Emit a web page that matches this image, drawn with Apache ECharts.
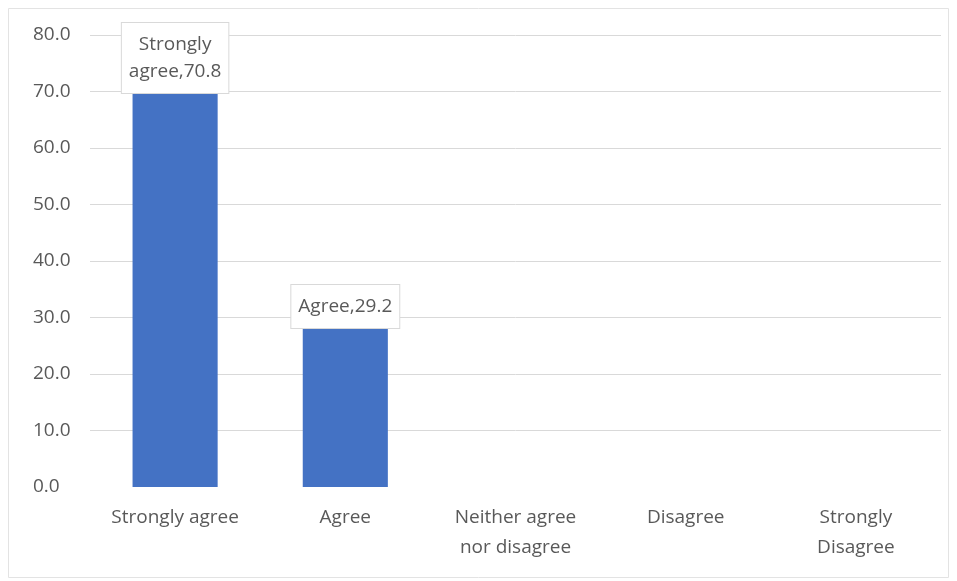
<!DOCTYPE html>
<html><head><meta charset="utf-8">
<script src="https://cdn.jsdelivr.net/npm/echarts@6/dist/echarts.min.js"></script>
<style>html,body{margin:0;padding:0;background:#fff}#c{width:957px;height:581px}</style>
</head><body><div id="c"></div>
<script>
const categories = ['Strongly agree', 'Agree', 'Neither agree nor disagree', 'Disagree', 'Strongly Disagree'];
const axisLabels = ['Strongly agree', 'Agree', 'Neither agree\nnor disagree', 'Disagree', 'Strongly\nDisagree'];
const dataLabels = ['Strongly\nagree', 'Agree', '', '', ''];
const values = [70.8, 29.2, null, null, null];
const yTicks = [0, 80, 10];

const chart = echarts.init(document.getElementById('c'));
const font = '"Open Sans", "Noto Sans", sans-serif';
chart.setOption({
  animation: false,
  graphic: [{type: 'rect', shape: {x: 8.5, y: 8.5, width: 940, height: 569}, style: {fill: 'none', stroke: '#e3e3e3', lineWidth: 1}, z: -1}],
  grid: {left: 90, right: 16, top: 35, bottom: 94},
  xAxis: {
    type: 'category', data: categories,
    axisLine: {show: false}, axisTick: {show: false},
    axisLabel: {color: '#595959', fontSize: 19, fontFamily: font, lineHeight: 30, margin: 16,
      formatter: (v, i) => axisLabels[i]}
  },
  yAxis: {
    type: 'value', min: yTicks[0], max: yTicks[1], interval: yTicks[2],
    axisLine: {show: false}, axisTick: {show: false},
    splitLine: {showMinLine: false, lineStyle: {color: '#d9d9d9'}},
    axisLabel: {color: '#595959', fontSize: 19, fontFamily: font, margin: 57, align: 'left',
      formatter: v => v.toFixed(1)}
  },
  series: [{
    type: 'bar', barWidth: '50%',
    data: values,
    itemStyle: {color: '#4472C4'},
    label: {
      show: true, position: 'top', distance: -6,
      formatter: p => dataLabels[p.dataIndex] + ',' + p.value.toFixed(1),
      color: '#595959', fontSize: 19, fontFamily: font, lineHeight: 27,
      backgroundColor: '#fff', borderColor: '#d9d9d9', borderWidth: 1,
      padding: [8, 7, 8, 7]
    }
  }]
});
</script></body></html>
